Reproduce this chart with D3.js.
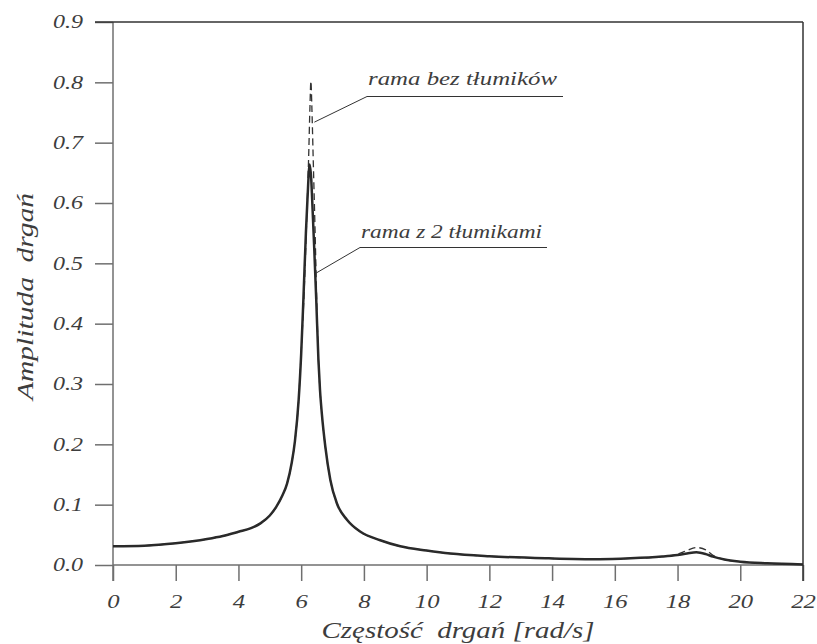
<!DOCTYPE html>
<html>
<head>
<meta charset="utf-8">
<script src="https://cdn.jsdelivr.net/npm/d3@7"></script>
<style>
  html, body { margin: 0; padding: 0; background: #fff; }
  svg { display: block; }
  svg text { font-family: 'Liberation Serif', 'Times New Roman', Tinos, 'DejaVu Serif', serif; font-style: italic; fill: #3d3d3d; }
</style>
</head>
<body>
<svg id="chart" width="817" height="644"></svg>
<script>
// Frequency response of the frame: with two dampers (solid) and without dampers (dashed)
const dampedFreq = [0, 1, 2, 3, 3.5, 4.0, 4.4, 4.7, 5.0, 5.2, 5.4, 5.55, 5.7, 5.8, 5.92, 6.0, 6.07, 6.15, 6.2, 6.27, 6.32, 6.35, 6.42, 6.48, 6.55, 6.6, 6.66, 6.77, 6.93, 7.14, 7.46, 7.89, 8.52, 9.16, 10.0, 10.76, 12, 13.9, 15.5, 16.5, 17.5, 18.0, 18.3, 18.6, 18.9, 19.13, 19.5, 20.0, 20.85, 22];
const dampedAmp  = [0.031, 0.032, 0.036, 0.043, 0.048, 0.055, 0.061, 0.069, 0.082, 0.096, 0.115, 0.135, 0.17, 0.205, 0.274, 0.35, 0.44, 0.55, 0.606, 0.664, 0.64, 0.606, 0.52, 0.44, 0.34, 0.29, 0.25, 0.196, 0.141, 0.102, 0.075, 0.055, 0.041, 0.031, 0.024, 0.019, 0.0145, 0.011, 0.0095, 0.011, 0.014, 0.0166, 0.019, 0.021, 0.018, 0.0138, 0.009, 0.0055, 0.0028, 0.001];

const bareFreq = [0, 1, 2, 3, 3.5, 4.0, 4.4, 4.7, 5.0, 5.2, 5.4, 5.55, 5.7, 5.8, 5.92, 6.0, 6.1, 6.18, 6.24, 6.28, 6.31, 6.34, 6.38, 6.44, 6.5, 6.55, 6.6, 6.66, 6.77, 6.93, 7.14, 7.46, 7.89, 8.52, 9.16, 10.0, 10.76, 12, 13.9, 15.5, 16.5, 17.5, 18.0, 18.3, 18.6, 18.9, 19.13, 19.5, 20.0, 20.85, 22];
const bareAmp  = [0.031, 0.032, 0.036, 0.043, 0.048, 0.055, 0.061, 0.069, 0.082, 0.096, 0.115, 0.135, 0.17, 0.205, 0.274, 0.352, 0.46, 0.58, 0.68, 0.76, 0.802, 0.76, 0.68, 0.56, 0.43, 0.34, 0.29, 0.25, 0.196, 0.141, 0.102, 0.075, 0.055, 0.041, 0.031, 0.024, 0.019, 0.0145, 0.011, 0.0095, 0.011, 0.014, 0.018, 0.024, 0.029, 0.025, 0.016, 0.009, 0.0055, 0.0028, 0.001];

const xTicks = [0, 2, 4, 6, 8, 10, 12, 14, 16, 18, 20, 22];
const yTicks = [0.0, 0.1, 0.2, 0.3, 0.4, 0.5, 0.6, 0.7, 0.8, 0.9];

const labelBare = "rama bez tłumików";
const labelDamped = "rama z 2 tłumikami";
const xTitle = "Częstość  drgań [rad/s]";
const yTitle = "Amplituda  drgań";

const serifStack = "'Liberation Serif', 'Times New Roman', Tinos, 'DejaVu Serif', serif";
const widen = 1.3; // the typeface is set horizontally stretched
const textColor = "#3d3d3d";

const svg = d3.select("#chart");
const plotLeft = 113, plotRight = 803, plotTop = 22, plotBottom = 565;

const x = d3.scaleLinear().domain([0, 22]).range([plotLeft, plotRight]);
const y = d3.scaleLinear().domain([0, 0.9]).range([plotBottom, plotTop]);

const axisColor = "#6f6f6f";
const frameColor = "#333";

// Stretch text horizontally by a fixed factor
function stretch(sel, factor) {
  sel.each(function () {
    const w = this.getComputedTextLength();
    d3.select(this).attr("textLength", w * factor).attr("lengthAdjust", "spacingAndGlyphs");
  });
}

// Bottom axis with ticks below
const xAxis = d3.axisBottom(x).tickValues(xTicks).tickSize(16).tickPadding(14)
  .tickFormat(d => d);
const gx = svg.append("g").attr("transform", `translate(0,${plotBottom})`).call(xAxis)
  .attr("font-family", serifStack).attr("font-size", 19);
gx.select(".domain").remove();
gx.selectAll(".tick line").attr("stroke", axisColor).attr("stroke-width", 1.5);
gx.selectAll(".tick text").attr("fill", textColor).attr("dy", "0.7em");
stretch(gx.selectAll(".tick text"), widen);

// Left axis with ticks to the left
const yAxis = d3.axisLeft(y).tickValues(yTicks).tickSize(18).tickPadding(12)
  .tickFormat(d3.format(".1f"));
const gy = svg.append("g").attr("transform", `translate(${plotLeft},0)`).call(yAxis)
  .attr("font-family", serifStack).attr("font-size", 18.5);
gy.select(".domain").remove();
gy.selectAll(".tick line").attr("stroke", axisColor).attr("stroke-width", 1.5);
gy.selectAll(".tick text").attr("fill", textColor);
stretch(gy.selectAll(".tick text"), widen);

// Frame lines
svg.append("line").attr("x1", plotLeft).attr("x2", plotLeft).attr("y1", plotTop).attr("y2", plotBottom + 16)
  .attr("stroke", axisColor).attr("stroke-width", 1.5);
svg.append("line").attr("x1", plotLeft).attr("x2", plotRight).attr("y1", plotBottom).attr("y2", plotBottom)
  .attr("stroke", axisColor).attr("stroke-width", 1.5);
svg.append("line").attr("x1", plotLeft - 18).attr("x2", plotRight).attr("y1", plotTop).attr("y2", plotTop)
  .attr("stroke", frameColor).attr("stroke-width", 1.5);
svg.append("line").attr("x1", plotRight).attr("x2", plotRight).attr("y1", plotTop).attr("y2", plotBottom + 16)
  .attr("stroke", frameColor).attr("stroke-width", 1.5);

// Curves
const line = d3.line().x(d => x(d[0])).y(d => y(d[1])).curve(d3.curveMonotoneX);
const bareData = d3.zip(bareFreq, bareAmp);
const dampedData = d3.zip(dampedFreq, dampedAmp);

svg.append("path").datum(bareData).attr("d", line)
  .attr("fill", "none").attr("stroke", "#333").attr("stroke-width", 1.3)
  .attr("stroke-dasharray", "7,4");
svg.append("path").datum(dampedData).attr("d", line)
  .attr("fill", "none").attr("stroke", "#2a2a2a").attr("stroke-width", 2.5);

// Callout labels with leader lines
function callout(label, anchorV, anchorA, elbowX, elbowY, endX, textX, textY, textW) {
  svg.append("path")
    .attr("d", `M${x(anchorV)},${y(anchorA)} L${elbowX},${elbowY} L${endX},${elbowY}`)
    .attr("fill", "none").attr("stroke", "#333").attr("stroke-width", 1);
  svg.append("text").attr("x", textX).attr("y", textY).attr("font-size", 19)
    .attr("font-family", serifStack)
    .attr("textLength", textW).attr("lengthAdjust", "spacingAndGlyphs").text(label);
}
callout(labelBare, 6.42, 0.734, 367, 96.5, 563, 368, 85, 189);
callout(labelDamped, 6.48, 0.484, 360, 247.5, 547, 361, 238, 181);

// Axis titles
svg.append("text").attr("x", 458).attr("y", 638).attr("text-anchor", "middle")
  .attr("font-family", serifStack).attr("font-size", 23).style("white-space", "pre")
  .attr("textLength", 273).attr("lengthAdjust", "spacingAndGlyphs").text(xTitle);
svg.append("text").attr("transform", "translate(33,296.5) rotate(-90)").attr("text-anchor", "middle")
  .attr("font-family", serifStack).attr("font-size", 23).style("white-space", "pre")
  .attr("textLength", 207).attr("lengthAdjust", "spacingAndGlyphs").text(yTitle);
</script>
</body>
</html>
